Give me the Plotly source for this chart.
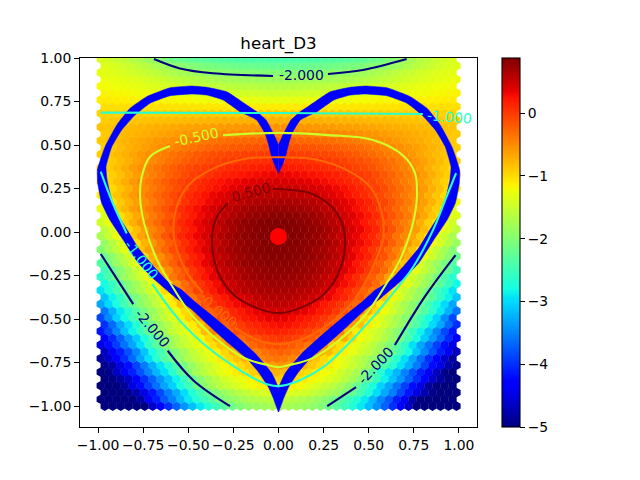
import plotly.graph_objects as go

# Field values estimated from the colours, one row per hexagon row (bottom to top);
# columns run from the outer edge to the centre line.
Z_ROWS = [
[-5,-5,-5,-5,-5,-5,-4.65,-4.3,-4,-3.7,-3.4,-3.15,-2.9,-2.7,-2.5,-2.3,-2.15,-2,-1.9,-1.85,-1.8,-1.75,-1.75],
[-5,-5,-5,-5,-5,-4.8,-4.4,-4.1,-3.75,-3.5,-3.2,-2.9,-2.7,-2.5,-2.3,-2.1,-1.95,-1.85,-1.75,-1.7,-1.65,-1.6,-1.6],
[-5,-5,-5,-4.93,-4.75,-4.5,-4.15,-3.85,-3.53,-3.28,-2.98,-2.7,-2.45,-2.23,-2.03,-1.85,-1.73,-1.63,-1.53,-1.45,-1.4,-1.35,-1.35],
[-5,-5,-5,-4.85,-4.5,-4.2,-3.9,-3.6,-3.3,-3.05,-2.75,-2.5,-2.2,-1.95,-1.75,-1.6,-1.5,-1.4,-1.3,-1.2,-1.15,-1.1,-1.1],
[-5,-4.98,-4.83,-4.63,-4.3,-4,-3.7,-3.4,-3.13,-2.85,-2.53,-2.25,-1.98,-1.78,-1.6,-1.45,-1.35,-1.25,-1.17,-1.08,-1,-.95,-.93],
[-5,-4.95,-4.65,-4.4,-4.1,-3.8,-3.5,-3.2,-2.95,-2.65,-2.3,-2,-1.75,-1.6,-1.45,-1.3,-1.2,-1.1,-1.03,-.95,-.85,-.8,-.75],
[-4.93,-4.78,-4.48,-4.2,-3.88,-3.55,-3.23,-2.93,-2.65,-2.4,-2.1,-1.85,-1.65,-1.5,-1.35,-1.2,-1.1,-.99,-.89,-.78,-.66,-.6,-.55],
[-4.85,-4.6,-4.3,-4,-3.65,-3.3,-2.95,-2.65,-2.35,-2.15,-1.9,-1.7,-1.55,-1.4,-1.25,-1.1,-1,-.87,-.75,-.6,-.47,-.4,-.35],
[-4.68,-4.4,-4.1,-3.8,-3.48,-3.13,-2.78,-2.48,-2.18,-1.98,-1.75,-1.58,-1.43,-1.28,-1.14,-.98,-.78,-.66,-.56,-.44,-.34,-.27,-.23],
[-4.5,-4.2,-3.9,-3.6,-3.3,-2.95,-2.6,-2.3,-2,-1.8,-1.6,-1.45,-1.3,-1.15,-1.03,-.85,-.55,-.45,-.37,-.28,-.2,-.13,-.1],
[-4.33,-4.03,-3.7,-3.38,-3.08,-2.75,-2.43,-2.14,-1.88,-1.68,-1.5,-1.35,-1.2,-.98,-.74,-.6,-.4,-.29,-.2,-.12,-.05,0,.03],
[-4.15,-3.85,-3.5,-3.15,-2.85,-2.55,-2.25,-1.97,-1.75,-1.55,-1.4,-1.25,-1.1,-.8,-.45,-.35,-.25,-.12,-.03,.05,.1,.14,.16],
[-4,-3.65,-3.28,-2.98,-2.68,-2.38,-2.1,-1.86,-1.65,-1.45,-1.28,-1.1,-.83,-.6,-.37,-.23,-.11,0,.09,.15,.2,.25,.27],
[-3.85,-3.45,-3.05,-2.8,-2.5,-2.2,-1.95,-1.75,-1.55,-1.35,-1.15,-.95,-.55,-.4,-.28,-.1,.03,.12,.2,.25,.3,.35,.37],
[-3.58,-3.23,-2.9,-2.63,-2.35,-2.08,-1.85,-1.65,-1.43,-1.23,-.98,-.7,-.43,-.26,-.13,.02,.13,.21,.29,.36,.41,.45,.47],
[-3.3,-3,-2.75,-2.45,-2.2,-1.95,-1.75,-1.55,-1.3,-1.1,-.8,-.45,-.3,-.12,.03,.13,.22,.3,.38,.46,.52,.55,.56],
[-3.13,-2.85,-2.6,-2.3,-2.05,-1.83,-1.63,-1.4,-1.15,-.9,-.6,-.35,-.18,-.02,.12,.23,.33,.42,.48,.54,.59,.61,.62],
[-2.95,-2.7,-2.45,-2.15,-1.9,-1.7,-1.5,-1.25,-1,-.7,-.4,-.25,-.05,.08,.2,.32,.43,.53,.58,.62,.65,.67,.68],
[-2.8,-2.55,-2.28,-2,-1.78,-1.58,-1.35,-1.08,-.81,-.54,-.31,-.15,.03,.16,.28,.4,.49,.58,.63,.67,.7,.72,.72],
[-2.65,-2.4,-2.1,-1.85,-1.65,-1.45,-1.2,-.9,-.62,-.38,-.22,-.05,.1,.23,.35,.47,.55,.62,.68,.72,.74,.76,.76],
[-2.5,-2.25,-1.98,-1.75,-1.53,-1.3,-1.03,-.75,-.51,-.3,-.14,.03,.16,.29,.41,.52,.6,.66,.72,.75,.77,.79,.79],
[-2.35,-2.1,-1.85,-1.65,-1.4,-1.15,-.85,-.6,-.4,-.22,-.05,.1,.22,.35,.47,.56,.64,.7,.75,.78,.8,.82,.82],
[-2.18,-1.94,-1.7,-1.48,-1.25,-1,-.74,-.52,-.34,-.16,-.01,.14,.25,.38,.49,.58,.66,.72,.77,.8,.82,.84,.84],
[-2,-1.78,-1.55,-1.3,-1.1,-.85,-.63,-.43,-.28,-.1,.03,.17,.28,.4,.5,.6,.68,.73,.78,.81,.83,.85,.85],
[-1.86,-1.64,-1.41,-1.19,-.99,-.76,-.57,-.39,-.23,-.06,.08,.2,.31,.42,.51,.61,.69,.74,.79,.82,.84,.86,.87],
[-1.72,-1.5,-1.27,-1.08,-.88,-.66,-.5,-.35,-.17,-.02,.12,.23,.33,.43,.51,.61,.69,.75,.8,.83,.85,.87,.88],
[-1.59,-1.38,-1.19,-1,-.81,-.61,-.46,-.33,-.16,-.02,.12,.23,.33,.43,.51,.61,.69,.75,.8,.83,.85,.87,.88],
[-1.45,-1.25,-1.1,-.93,-.73,-.56,-.42,-.3,-.15,-.02,.11,.22,.32,.42,.5,.6,.68,.74,.79,.82,.85,.86,.87],
[-1.37,-1.18,-1.02,-.86,-.68,-.54,-.41,-.29,-.16,-.03,.1,.2,.3,.39,.47,.55,.63,.69,.74,.77,.79,.81,.82],
[-1.28,-1.1,-.93,-.78,-.63,-.52,-.4,-.28,-.16,-.04,.08,.18,.27,.36,.44,.5,.57,.63,.68,.71,.73,.75,.76],
[-1.22,-1.05,-.9,-.76,-.62,-.51,-.4,-.29,-.18,-.07,.04,.14,.22,.31,.38,.44,.51,.56,.61,.63,.65,.67,.67],
[-1.15,-1,-.87,-.74,-.6,-.49,-.39,-.29,-.19,-.09,0,.09,.17,.25,.32,.38,.44,.49,.53,.55,.57,.58,.58],
[-1.11,-.98,-.85,-.73,-.6,-.5,-.4,-.31,-.21,-.12,-.03,.05,.12,.19,.26,.31,.36,.41,.45,.47,.49,.51,.51],
[-1.07,-.95,-.83,-.72,-.6,-.5,-.41,-.32,-.23,-.14,-.06,.01,.07,.13,.19,.24,.28,.32,.36,.39,.41,.43,.44],
[-1.03,-.93,-.83,-.72,-.61,-.51,-.43,-.35,-.26,-.18,-.11,-.04,.01,.06,.11,.16,.19,.23,.26,.28,.3,.32,.33],
[-.98,-.9,-.82,-.72,-.61,-.52,-.44,-.37,-.29,-.22,-.15,-.09,-.05,-.01,.03,.07,.1,.13,.15,.17,.19,.21,.22],
[-.95,-.89,-.81,-.73,-.64,-.56,-.49,-.42,-.35,-.29,-.23,-.17,-.13,-.09,-.05,-.02,.01,.04,.06,.07,.09,.1,.11],
[-.92,-.87,-.8,-.73,-.66,-.59,-.53,-.47,-.41,-.35,-.3,-.25,-.2,-.16,-.13,-.1,-.08,-.06,-.04,-.03,-.02,-.01,0],
[-.91,-.87,-.8,-.75,-.69,-.63,-.58,-.53,-.48,-.44,-.39,-.35,-.31,-.27,-.24,-.22,-.2,-.18,-.16,-.15,-.14,-.13,-.13],
[-.9,-.86,-.8,-.76,-.71,-.67,-.63,-.58,-.55,-.52,-.48,-.44,-.41,-.38,-.35,-.33,-.31,-.29,-.28,-.27,-.26,-.25,-.25],
[-.89,-.86,-.81,-.78,-.75,-.72,-.69,-.65,-.63,-.6,-.57,-.55,-.52,-.5,-.48,-.47,-.45,-.44,-.43,-.42,-.41,-.41,-.41],
[-.87,-.85,-.82,-.8,-.78,-.76,-.74,-.72,-.7,-.68,-.66,-.65,-.63,-.62,-.61,-.6,-.59,-.58,-.57,-.57,-.56,-.56,-.56],
[-.91,-.9,-.88,-.87,-.86,-.84,-.83,-.82,-.81,-.8,-.79,-.78,-.77,-.76,-.76,-.75,-.75,-.74,-.74,-.74,-.73,-.73,-.73],
[-.94,-.94,-.93,-.93,-.93,-.92,-.92,-.92,-.92,-.91,-.91,-.91,-.91,-.9,-.9,-.9,-.9,-.9,-.9,-.9,-.9,-.9,-.9],
[-1.02,-1.02,-1.02,-1.03,-1.03,-1.03,-1.04,-1.04,-1.05,-1.05,-1.05,-1.06,-1.06,-1.07,-1.07,-1.08,-1.08,-1.09,-1.09,-1.1,-1.1,-1.1,-1.1],
[-1.1,-1.1,-1.11,-1.12,-1.13,-1.14,-1.15,-1.16,-1.17,-1.18,-1.19,-1.2,-1.21,-1.23,-1.24,-1.25,-1.26,-1.27,-1.28,-1.29,-1.29,-1.3,-1.3],
[-1.15,-1.16,-1.18,-1.19,-1.21,-1.23,-1.25,-1.27,-1.29,-1.31,-1.33,-1.35,-1.37,-1.39,-1.4,-1.42,-1.43,-1.44,-1.45,-1.46,-1.47,-1.48,-1.48],
[-1.2,-1.22,-1.24,-1.26,-1.28,-1.31,-1.34,-1.37,-1.4,-1.43,-1.46,-1.49,-1.52,-1.54,-1.56,-1.58,-1.6,-1.61,-1.62,-1.63,-1.64,-1.65,-1.65],
[-1.25,-1.28,-1.3,-1.33,-1.36,-1.4,-1.44,-1.48,-1.52,-1.57,-1.61,-1.65,-1.68,-1.71,-1.73,-1.75,-1.77,-1.79,-1.8,-1.81,-1.82,-1.83,-1.83],
[-1.3,-1.33,-1.36,-1.4,-1.44,-1.49,-1.54,-1.59,-1.64,-1.7,-1.75,-1.8,-1.84,-1.87,-1.9,-1.92,-1.94,-1.96,-1.97,-1.98,-1.99,-2,-2],
[-1.35,-1.39,-1.44,-1.49,-1.55,-1.62,-1.7,-1.79,-1.85,-1.92,-1.97,-2.01,-2.05,-2.08,-2.11,-2.13,-2.15,-2.17,-2.18,-2.19,-2.2,-2.21,-2.21],
[-1.4,-1.45,-1.51,-1.58,-1.66,-1.75,-1.85,-1.98,-2.06,-2.13,-2.18,-2.22,-2.26,-2.29,-2.32,-2.34,-2.36,-2.38,-2.39,-2.4,-2.4,-2.41,-2.41],
]

# Heart band, left half; the right half is its mirror image.
HEART_OUTER_X = [0,-.029,-.069,-.119,-.176,-.287,-.398,-.481,-.601,-.73,-.823,-.896,-.961,-1.004,-1.002,-.98,-.934,-.86,-.777,-.684,-.573,-.49,-.389,-.278,-.167,-.112,-.057,-.029,0]
HEART_OUTER_Y = [.5,.567,.644,.69,.73,.806,.832,.839,.829,.778,.711,.615,.49,.356,.282,.167,.069,-.046,-.178,-.276,-.374,-.437,-.534,-.638,-.736,-.803,-.889,-.954,-1.034]
HEART_INNER_X = [0,-.025,-.043,-.057,-.075,-.121,-.213,-.307,-.398,-.481,-.601,-.712,-.795,-.869,-.924,-.956,-.95,-.934,-.906,-.832,-.777,-.684,-.612,-.536,-.463,-.352,-.241,-.13,-.038,0]
HEART_INNER_Y = [.337,.395,.452,.51,.567,.644,.691,.759,.787,.793,.783,.74,.672,.586,.49,.375,.3,.224,.126,.002,-.092,-.207,-.286,-.333,-.401,-.494,-.592,-.697,-.81,-.897]

CENTER_X = [0]
CENTER_Y = [-.025]

# Contour lines, in pieces broken where their labels sit
C_P05_X = [-.03,0,.19,.324,.368,.34,.247,.119,0,-.119,-.247,-.34,-.368,-.34,-.28]
C_P05_Y = [.247,.247,.218,.109,-.029,-.218,-.362,-.437,-.466,-.437,-.362,-.218,-.029,.09,.167]
C_0_X = [-.24,-.119,0,.119,.247,.407,.507,.562,.58,.573,.507,.38,.19,0,-.19,-.38,-.507,-.573,-.58,-.562,-.507,-.418]
C_0_Y = [-.552,-.62,-.644,-.62,-.552,-.408,-.236,-.103,-.034,.11,.26,.356,.42,.43,.42,.356,.26,.11,-.034,-.103,-.236,-.35]
C_M05_X = [-.307,0,.28,.52,.69,.756,.767,.745,.717,.673,.6,.49,.36,.19,.06,0,-.06,-.19,-.36,-.49,-.6,-.673,-.745,-.767,-.758,-.712,-.601]
C_M05_Y = [.557,.57,.557,.53,.44,.34,.2,.05,-.046,-.16,-.293,-.465,-.6,-.724,-.764,-.776,-.764,-.724,-.6,-.465,-.293,-.16,.05,.2,.318,.433,.494]
C_M1_TOP_X = [-.985,0,.80]
C_M1_TOP_Y = [.686,.684,.678]
C_M1_LEFT_X = [-.985,-.92,-.841]
C_M1_LEFT_Y = [.347,.17,-.008]
C_M1_LOW_X = [-.699,-.546,-.389,-.204,-.064,0,.119,.25,.38,.524,.635,.746,.856,.93,.984]
C_M1_LOW_Y = [-.299,-.51,-.665,-.8,-.875,-.885,-.851,-.775,-.65,-.489,-.351,-.201,.011,.2,.339]
C_M2_TL_X = [-.69,-.546,-.363,-.03]
C_M2_TL_Y = [.994,.94,.912,.897]
C_M2_TR_X = [.274,.468,.71]
C_M2_TR_Y = [.908,.931,.994]
C_M2_LA_X = [-.985,-.805]
C_M2_LA_Y = [-.126,-.414]
C_M2_LB_X = [-.614,-.473,-.269]
C_M2_LB_Y = [-.682,-.851,-1.0]
C_M2_RA_X = [.981,.81,.645]
C_M2_RA_Y = [-.132,-.372,-.649]
C_M2_RB_X = [.43,.27]
C_M2_RB_Y = [-.891,-1.0]

LABELS = ["-2.000", "-2.000", "-2.000", "-1.000", "-1.000", "-0.500", "0.000", "0.500"]
LABEL_X = [.125, -.70, .54, .95, -.758, -.457, -.324, -.152]
LABEL_Y = [.90, -.553, -.764, .66, -.161, .546, -.458, .232]
LABEL_ANGLE = [0, 50, -47, 5, 52, -12, 40, -15]
LABEL_COLOR = ["#00007f", "#00007f", "#00007f", "#29ffcd", "#29ffcd", "#cdff29", "#ff6800", "#7f0000"]

TICKS_X = [-1, -.75, -.5, -.25, 0, .25, .5, .75, 1]
TICKS_Y = [-1, -.75, -.5, -.25, 0, .25, .5, .75, 1]
TICKS_CB = [-5, -4, -3, -2, -1, 0]

JET = [[0, "#00007f"], [.11, "#0000ff"], [.125, "#0000ff"], [.34, "#00dbff"], [.35, "#00e3f7"],
       [.375, "#14ffe2"], [.64, "#eeff08"], [.65, "#f7f800"], [.66, "#ffef00"], [.89, "#ff1300"],
       [.91, "#e80000"], [1, "#7f0000"]]

FONT = "DejaVu Sans"
hx, hy, hz = [], [], []
DX, DY = .0443, .0391
for i, half in enumerate(Z_ROWS):
    row = half + half[-2::-1]
    x0 = -.963 if i % 2 == 0 else -.985
    for k, v in enumerate(row):
        hx.append(x0 + k * DX)
        hy.append(-1 + i * DY)
        hz.append(v)

fig = go.Figure()
fig.add_trace(go.Scatter(
    x=hx, y=hy, mode="markers", hoverinfo="skip",
    marker=dict(symbol="hexagon", size=9.6, color=hz, cmin=-5, cmax=.88, colorscale=JET,
                line=dict(width=0),
                colorbar=dict(x=1.0642, xanchor="left", xpad=0, y=.5, yanchor="middle", ypad=0,
                              len=1, lenmode="fraction", thickness=17.5, thicknessmode="pixels",
                              tickvals=TICKS_CB, ticks="outside", ticklen=4.9, tickwidth=1.1,
                              tickcolor="black", outlinewidth=1.1, outlinecolor="black",
                              tickfont=dict(family=FONT, size=13.9, color="black")))))

for sign in (1, -1):
    bx = HEART_OUTER_X + HEART_INNER_X[::-1]
    by = HEART_OUTER_Y + HEART_INNER_Y[::-1]
    fig.add_trace(go.Scatter(x=[sign * v for v in bx], y=by, mode="lines", fill="toself",
                             fillcolor="#0000ff",
                             line=dict(color="#0000ff", width=.5, shape="spline", smoothing=.4),
                             hoverinfo="skip"))

fig.add_trace(go.Scatter(x=CENTER_X, y=CENTER_Y, mode="markers", hoverinfo="skip",
                         marker=dict(color="#ff0000", size=17, line=dict(width=0))))

for cx, cy, col in [
    (C_P05_X, C_P05_Y, "#7f0000"), (C_0_X, C_0_Y, "#ff6800"), (C_M05_X, C_M05_Y, "#cdff29"),
    (C_M1_TOP_X, C_M1_TOP_Y, "#29ffcd"), (C_M1_LEFT_X, C_M1_LEFT_Y, "#29ffcd"), (C_M1_LOW_X, C_M1_LOW_Y, "#29ffcd"),
    (C_M2_TL_X, C_M2_TL_Y, "#00007f"), (C_M2_TR_X, C_M2_TR_Y, "#00007f"), (C_M2_LA_X, C_M2_LA_Y, "#00007f"),
    (C_M2_LB_X, C_M2_LB_Y, "#00007f"), (C_M2_RA_X, C_M2_RA_Y, "#00007f"), (C_M2_RB_X, C_M2_RB_Y, "#00007f"),
]:
    fig.add_trace(go.Scatter(x=cx, y=cy, mode="lines", hoverinfo="skip",
                             line=dict(color=col, width=2.1, shape="spline", smoothing=1.0)))

for t, x, y, a, c in zip(LABELS, LABEL_X, LABEL_Y, LABEL_ANGLE, LABEL_COLOR):
    fig.add_annotation(x=x, y=y, text=t, textangle=a, showarrow=False, xref="x", yref="y",
                       font=dict(family=FONT, size=13.9, color=c))

axis = dict(showgrid=False, zeroline=False, showline=True, mirror=True, linecolor="black", linewidth=1.1,
            ticks="outside", ticklen=4.9, tickwidth=1.1, tickcolor="black", tickformat=".2f",
            tickfont=dict(family=FONT, size=13.9, color="black"))
fig.update_xaxes(range=[-1.1, 1.1], tickvals=TICKS_X, **axis)
fig.update_yaxes(range=[-1.12, 1.0], tickvals=TICKS_Y, **axis)
fig.update_layout(
    width=632, height=472, showlegend=False, plot_bgcolor="white", paper_bgcolor="white",
    margin=dict(l=72, r=163, t=50, b=53, autoexpand=False),
    title=dict(text="heart_D3", x=(270.5 / 632), xanchor="center", y=1 - 35.5 / 472, yanchor="middle",
               font=dict(family=FONT, size=16.7, color="black")),
)
fig.write_html("out.html")
